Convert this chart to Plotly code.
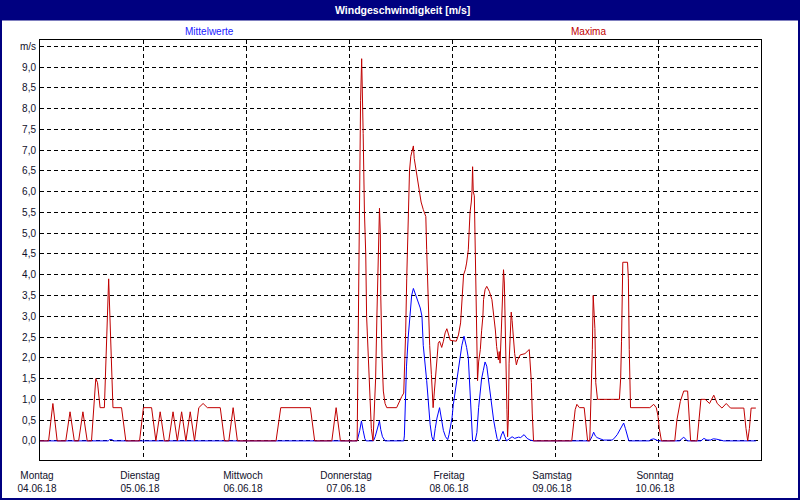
import pandas as pd
import plotly.graph_objects as go

# ---------------- data ----------------
start = pd.Timestamp("2018-06-04 00:00")
day_names = ["Montag", "Dienstag", "Mittwoch", "Donnerstag", "Freitag", "Samstag", "Sonntag"]
day_dates = ["04.06.18", "05.06.18", "06.06.18", "07.06.18", "08.06.18", "09.06.18", "10.06.18"]
day_ticks = ["2018-06-04", "2018-06-05", "2018-06-06", "2018-06-07",
             "2018-06-08", "2018-06-09", "2018-06-10"]
y_ticks = [0, 0.5, 1, 1.5, 2, 2.5, 3, 3.5, 4, 4.5, 5, 5.5, 6, 6.5, 7, 7.5, 8, 8.5, 9, 9.5]
y_labels = ["0,0", "0,5", "1,0", "1,5", "2,0", "2,5", "3,0", "3,5", "4,0", "4,5",
            "5,0", "5,5", "6,0", "6,5", "7,0", "7,5", "8,0", "8,5", "9,0", "m/s"]

# Mittelwerte (hours since Monday 00:00, m/s)
mean_hours = [0, 15.9, 16.2, 16.8, 17.1, 73.9, 74.5, 74.9, 75.3, 75.7, 76.0,
              77.7, 78.1, 78.5, 79.1, 79.4, 79.8, 80.4,
              84.75, 84.9, 85.1, 85.4, 85.8, 86.2, 86.6, 87.0, 87.8, 88.6, 89.0, 89.3,
              90.1, 90.5, 90.9, 91.3, 91.7, 92.1, 92.5, 93.1, 93.5, 94.0, 94.5, 95.0,
              95.3, 95.6, 96.0, 96.3, 97.1, 97.7, 98.3, 98.8, 99.1, 99.4, 99.8, 100.1,
              100.4, 100.6, 100.8, 101.4, 101.8, 102.2, 102.6, 102.9, 103.3, 103.7, 104.1,
              104.5, 104.9, 105.3, 105.7, 106.1, 106.5, 106.9, 107.2, 107.5, 107.9, 108.3,
              108.7, 109.5, 110.0, 110.6, 111.5, 112.0, 112.8, 113.5, 114.2, 115.0,
              128.1, 128.6, 129.0, 129.4, 129.8, 130.5, 131.3, 133.3, 133.7, 134.5, 135.3,
              136.0, 136.4, 136.8, 137.2, 142.0, 142.3, 143.0, 143.8, 144.1,
              149.0, 150.0, 150.8, 154.0, 154.7, 155.4, 156.2, 156.9, 157.7, 158.9, 159.3,
              166.8]
mean_values = [0, 0, 0.03, 0.03, 0, 0, 0.25, 0.48, 0.25, 0.05, 0,
               0, 0.1, 0.27, 0.48, 0.27, 0.1, 0,
               0, 0.12, 1.0, 1.8, 2.5, 3.0, 3.5, 3.67, 3.45, 3.2, 3.0, 2.3,
               1.45, 0.9, 0.4, 0.1, 0, 0.3, 0.55, 0.8, 0.5, 0.25, 0.1, 0.03,
               0.15, 0.3, 0.55, 0.87, 1.45, 1.9, 2.3, 2.52, 2.4, 2.25, 2.0, 1.4,
               0.7, 0.15, 0, 0, 0.2, 0.8, 1.2, 1.5, 1.7, 1.9, 1.8,
               1.45, 1.05, 0.75, 0.5, 0.27, 0.06, 0, 0.03, 0.14, 0.23, 0.1,
               0, 0.06, 0.1, 0.06, 0.09, 0.08, 0.15, 0.06, 0.02, 0,
               0, 0.1, 0.21, 0.12, 0.08, 0.05, 0.02, 0.02, 0.05, 0.15, 0.3,
               0.43, 0.3, 0.14, 0, 0, 0.03, 0.05, 0.02, 0,
               0, 0.09, 0, 0, 0.06, 0.02, 0.02, 0.05, 0.04, 0.02, 0,
               0]

# Maxima (hours since Monday 00:00, m/s)
max_hours = [0, 2, 3, 4, 6, 7, 8, 9, 10, 11, 12, 13, 13.4, 14, 15, 16, 17, 19, 20,
             23.2, 24.1, 26, 27, 28, 29, 30, 31, 32, 33, 34, 35, 36, 37, 38, 39, 42, 43,
             44, 45, 46,
             55, 56.1, 63, 64, 68, 69, 70,
             73.9, 74.0, 74.3, 74.7, 74.95, 75.1, 75.3, 75.6, 75.9, 76.1, 76.4, 76.7,
             77.0, 77.2, 77.6, 77.85, 78.2, 78.5, 78.7, 79.0, 79.1, 79.3, 79.4, 79.7,
             80.0, 80.4, 80.8, 83.1, 83.7, 84.3, 84.75, 85.0, 85.2, 85.45, 85.7, 85.85,
             86.1, 86.4, 86.8, 87.0, 87.2, 87.8, 88.3, 88.8, 89.3, 89.9, 90.1, 90.4,
             90.8, 91.2, 91.6, 91.9, 92.2, 92.5, 92.8, 93.1, 93.6, 94.0, 94.4, 94.8,
             95.2, 95.6,
             97.0, 97.5, 98.0, 98.4, 98.7, 99.1, 99.4, 99.8, 100.2, 100.5, 100.65,
             100.8, 100.95, 101.2, 101.4, 101.6, 101.8, 101.95, 102.2, 102.6, 102.9,
             103.2, 103.35, 103.7, 104.1, 104.7, 105.3, 105.7, 106.1, 106.4, 106.8,
             107.0, 107.2, 107.5, 107.8, 108.0, 108.2, 108.4, 108.8, 108.95, 109.15,
             109.3, 109.6, 109.8, 110.0, 110.3, 110.6, 111.0, 111.3, 111.9, 113.0,
             114.0, 114.2, 114.5, 114.7, 115.0,
             123.9, 124.3, 124.7, 125.1, 125.7, 126.8, 127.3, 127.6, 128.1, 128.3,
             128.5, 128.7, 128.9, 129.1, 129.3, 129.5, 129.9, 135.0, 135.3, 135.5,
             135.8, 136.9, 137.1, 137.3, 137.6, 142.1, 143.0, 143.6, 144.0, 144.3, 144.8,
             147.9, 148.4, 149.2, 150.0, 150.9, 151.2, 151.6, 153.1, 153.5, 154.0,
             155.0, 156.0, 157.0, 157.8, 158.9, 159.9, 160.9, 164.0, 164.5, 164.9,
             165.3, 165.7, 166.8]
max_values = [0, 0, 0.9, 0, 0, 0.7, 0, 0, 0.7, 0, 0, 1.5, 1.4, 0.8, 0.8, 3.9, 0.8, 0.8, 0,
              0, 0.8, 0.8, 0, 0.7, 0, 0, 0.7, 0, 0.7, 0, 0.7, 0, 0.8, 0.9, 0.8, 0.8, 0,
              0, 0.8, 0,
              0, 0.8, 0.8, 0, 0, 0.8, 0,
              0, 1.0, 5.0, 8.2, 9.2, 8.6, 7.4, 5.5, 4.5, 3.0, 2.2, 1.5,
              0.8, 0.3, 0, 0.6, 1.5, 3.0, 4.0, 5.0, 5.6, 5.0, 3.5, 2.0,
              1.2, 0.9, 0.8, 0.8, 0.95, 1.07, 1.15, 1.8, 2.6, 3.9, 5.0, 6.0,
              6.5, 6.85, 7.0, 7.1, 6.8, 6.4, 6.0, 5.75, 5.57, 5.4, 4.6, 3.6,
              2.3, 1.6, 0.8, 1.2, 1.6, 1.8, 2.35, 2.4, 2.25, 2.4, 2.6, 2.7,
              2.55, 2.42,
              2.4, 2.55, 2.84, 3.4, 4.0, 4.12, 4.28, 4.6, 5.5, 5.75, 6.0,
              6.6, 6.0, 5.9, 4.7, 3.3, 2.2, 1.45, 1.9, 2.2, 2.65,
              3.0, 3.4, 3.64, 3.72, 3.6, 3.4, 3.08, 2.67, 2.27, 1.95,
              2.15, 1.87, 2.67, 3.72, 4.12, 3.8, 2.5, 0.75, 0.1, 0.6,
              1.87, 2.67, 3.1, 2.9, 2.5, 2.1, 1.83, 1.95, 2.07, 2.1,
              2.2, 1.87, 1.4, 0.67, 0,
              0, 0.45, 0.75, 0.88, 0.8, 0.8, 0.3, 0, 0, 0.6,
              1.3, 2.2, 3.5, 3.2, 2.7, 1.4, 1.0, 1.0, 1.5, 2.4,
              4.3, 4.3, 3.9, 2.2, 0.8, 0.8, 0.88, 0.8, 0.6, 0.3, 0,
              0, 0.5, 0.95, 1.2, 1.2, 0.65, 0, 0, 0.5, 1.0,
              1.0, 0.9, 1.1, 0.9, 0.79, 0.9, 0.79, 0.79, 0.3, 0,
              0.3, 0.79, 0.79]


def to_time(hours):
    return [(start + pd.Timedelta(hours=h)).strftime("%Y-%m-%d %H:%M:%S") for h in hours]


# ---------------- layout helpers ----------------
W, H = 800, 500
ML, MR, MT, MB = 40, 39, 40, 40
PW, PH = W - ML - MR, H - MT - MB


def px(x):
    return (x - ML) / PW


def py(y):
    return (H - MB - y) / PH


FONT = "Liberation Sans, Arial, sans-serif"
NAVY = "#000080"
TXT = "#10102a"

fig = go.Figure()
fig.add_trace(go.Scatter(x=to_time(mean_hours), y=mean_values, mode="lines",
                         line=dict(color="#0000ff", width=1), name="Mittelwerte",
                         showlegend=False))
fig.add_trace(go.Scatter(x=to_time(max_hours), y=max_values, mode="lines",
                         line=dict(color="#c00000", width=1), name="Maxima",
                         showlegend=False))

fig.update_layout(
    width=W, height=H,
    margin=dict(l=ML, r=MR, t=MT, b=MB, pad=0, autoexpand=False),
    paper_bgcolor="white", plot_bgcolor="white",
    font=dict(family=FONT, size=10, color=TXT),
    showlegend=False,
    xaxis=dict(
        type="date", automargin=False,
        range=["2018-06-04 00:00", "2018-06-11 00:00"],
        tickmode="array",
        tickvals=day_ticks,
        ticktext=[f"{n}<br>{d}" for n, d in zip(day_names, day_dates)],
        ticks="", showline=True, mirror=True, linecolor="black", linewidth=1,
        showgrid=True, gridcolor="black", gridwidth=1, griddash="4px,3px",
        zeroline=False, tickfont=dict(size=10, color=TXT),
        ticklabelshift=-3, ticklabelstandoff=6,
        fixedrange=True,
    ),
    yaxis=dict(
        automargin=False,
        range=[-0.46, 9.65],
        tickmode="array", tickvals=y_ticks, ticktext=y_labels,
        ticks="", showline=True, mirror=True, linecolor="black", linewidth=1,
        showgrid=True, gridcolor="black", gridwidth=1, griddash="4px,3px",
        zeroline=False, tickfont=dict(size=10, color=TXT),
        ticklabelstandoff=1,
        fixedrange=True,
    ),
    shapes=[
        dict(type="rect", xref="paper", yref="paper",
             x0=px(0), x1=px(W), y0=py(0), y1=py(20.5),
             fillcolor=NAVY, line=dict(width=0), layer="above"),
        dict(type="rect", xref="paper", yref="paper",
             x0=px(1), x1=px(W - 1), y0=py(1), y1=py(H - 1),
             fillcolor="rgba(0,0,0,0)", line=dict(color=NAVY, width=2), layer="above"),
    ],
    annotations=[
        dict(text="Windgeschwindigkeit [m/s]", xref="paper", yref="paper",
             x=px(402), y=py(10), xanchor="center", yanchor="middle", showarrow=False,
             font=dict(family=FONT, size=10.5, color="white", weight="bold")),
        dict(text="Mittelwerte", xref="paper", yref="paper",
             x=px(209), y=py(31), xanchor="center", yanchor="middle", showarrow=False,
             font=dict(family=FONT, size=10, color="#2020ff")),
        dict(text="Maxima", xref="paper", yref="paper",
             x=px(588), y=py(31), xanchor="center", yanchor="middle", showarrow=False,
             font=dict(family=FONT, size=10, color="#c00000")),
    ],
)

fig.write_html("out.html")
